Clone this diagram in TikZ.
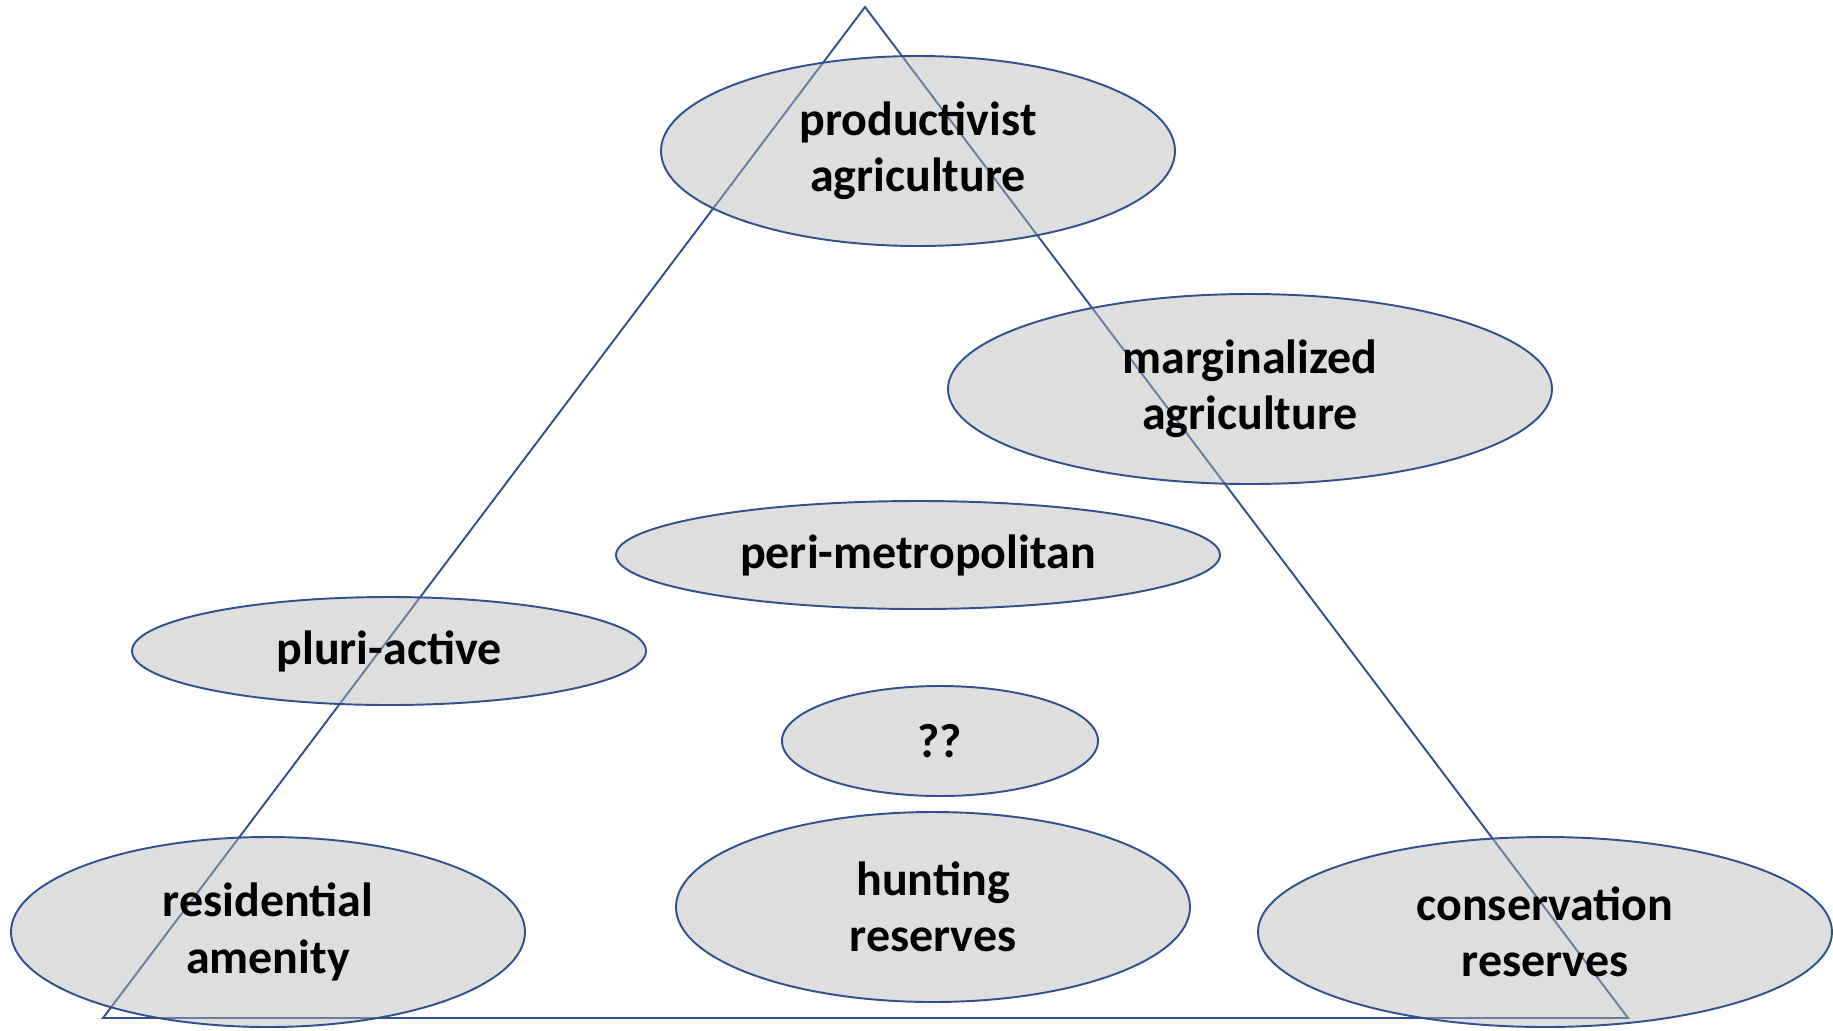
\documentclass[tikz,border=0pt]{standalone}
\usepackage{fontspec}
\setmainfont{Carlito}
\usetikzlibrary{shapes.geometric}

\definecolor{edgeblue}{HTML}{2F528F}
\definecolor{blobgray}{RGB}{181,181,181}

\tikzset{
  blob/.style={ellipse, draw=edgeblue, line width=1.1pt, fill=blobgray, fill opacity=0.45,
    text opacity=1, inner sep=0pt, align=center, font=\fontsize{27.3}{32}\selectfont\bfseries}
}

\begin{document}
\begin{tikzpicture}

\useasboundingbox (0,0) rectangle (36.66,-20.6);

\coordinate (apex) at (17.3,-0.14);
\coordinate (left) at (2.06,-20.36);
\coordinate (right) at (32.56,-20.36);
\draw[edgeblue, line width=1.1pt] (apex) -- (left) -- (right) -- cycle;

\node[blob, minimum width=10.28cm, minimum height=3.8cm] (prod) at (18.36,-3.02) {productivist\\agriculture};
\node[blob, minimum width=12.08cm, minimum height=3.8cm] (marg) at (25.0,-7.78) {marginalized\\agriculture};

\node[blob, minimum width=12.08cm, minimum height=2.16cm] (peri) at (18.36,-11.1) {peri-metropolitan};
\node[blob, minimum width=10.28cm, minimum height=2.16cm] (pluri) at (7.78,-13.02) {pluri-active};
\node[blob, minimum width=6.32cm, minimum height=2.2cm] (unknown) at (18.8,-14.82) {??};

\node[blob, minimum width=10.28cm, minimum height=3.8cm] (hunt) at (18.66,-18.14) {hunting\\reserves};
\node[blob, minimum width=10.28cm, minimum height=3.8cm] (resid) at (5.36,-18.64) {residential\\amenity};
\node[blob, minimum width=11.48cm, minimum height=3.8cm] (cons) at (30.9,-18.64) {conservation\\reserves};

\end{tikzpicture}
\end{document}
